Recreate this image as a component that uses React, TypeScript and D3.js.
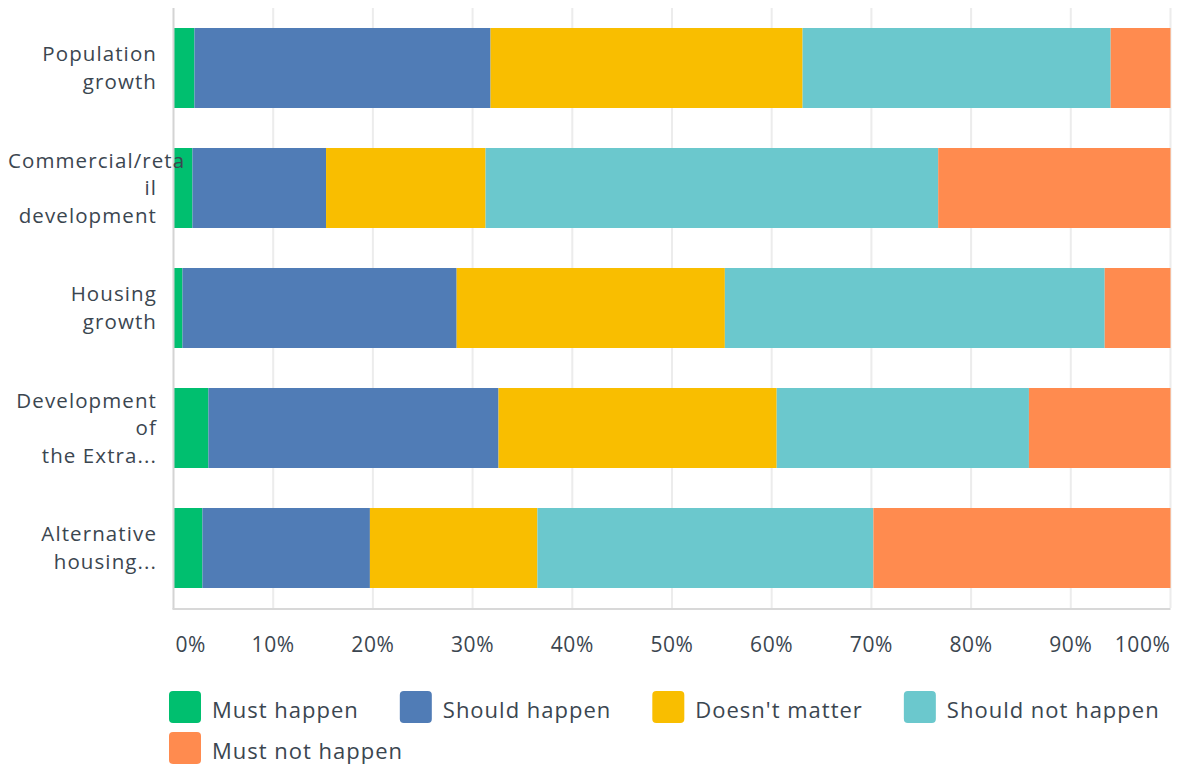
import React, { useEffect, useRef } from "react";
import * as d3 from "d3";

const categories: string[][] = [
  ["Population", "growth"],
  ["Commercial/reta", "il", "development"],
  ["Housing", "growth"],
  ["Development", "of", "the Extra..."],
  ["Alternative", "housing..."],
];
const seriesNames = ["Must happen", "Should happen", "Doesn't matter", "Should not happen", "Must not happen"];
const seriesColors = ["#00bf6f", "#507cb6", "#f9be00", "#6bc8cd", "#ff8b4f"];
const mustHappen = [2.1, 1.9, 0.9, 3.5, 2.9];
const shouldHappen = [29.7, 13.4, 27.5, 29.1, 16.8];
const doesntMatter = [31.3, 16.0, 26.9, 27.9, 16.8];
const shouldNotHappen = [30.9, 45.4, 38.1, 25.3, 33.7];
const mustNotHappen = [6.0, 23.3, 6.6, 14.2, 29.8];
const tickValues = [0, 10, 20, 30, 40, 50, 60, 70, 80, 90, 100];

const W = 1181;
const H = 765;
const FONT = "'Open Sans', sans-serif";
const TEXT = "#3b4650";

export default function App() {
  const ref = useRef<SVGSVGElement>(null);
  useEffect(() => {
    const svg = d3.select(ref.current);
    svg.selectAll("*").remove();
    const left = 173.5, right = 1170.5, top = 8, bottom = 608;
    const x = d3.scaleLinear().domain([0, 100]).range([left, right]);
    const keys = categories.map((c) => c.join(" "));
    const y = d3.scaleBand().domain(keys).range([top, bottom]).paddingInner(1 / 3).paddingOuter(1 / 6);
    const seriesData = [mustHappen, shouldHappen, doesntMatter, shouldNotHappen, mustNotHappen];
    const rows = keys.map((k, i) => {
      const o: any = { key: k };
      seriesNames.forEach((s, j) => (o[s] = seriesData[j][i]));
      return o;
    });
    const stack = d3.stack<any>().keys(seriesNames);
    const stacked = stack(rows);
    const total = rows.map((r) => d3.sum(seriesNames, (s) => r[s]));

    // gridlines
    svg.append("g").selectAll("line").data(tickValues.slice(1)).join("line")
      .attr("x1", (d) => x(d)).attr("x2", (d) => x(d))
      .attr("y1", top).attr("y2", bottom)
      .attr("stroke", "#ececec").attr("stroke-width", 2);

    // bars
    stacked.forEach((layer, j) => {
      svg.append("g").attr("fill", seriesColors[j]).selectAll("rect").data(layer).join("rect")
        .attr("x", (d, i) => x((d[0] / total[i]) * 100))
        .attr("width", (d, i) => x((d[1] / total[i]) * 100) - x((d[0] / total[i]) * 100))
        .attr("y", (d: any) => y(d.data.key) as number)
        .attr("height", y.bandwidth());
    });

    // axes lines
    svg.append("line").attr("x1", x(0)).attr("x2", x(0)).attr("y1", top).attr("y2", bottom + 1)
      .attr("stroke", "#d4d4d4").attr("stroke-width", 2);
    svg.append("line").attr("x1", x(0) - 1).attr("x2", x(100)).attr("y1", bottom + 1).attr("y2", bottom + 1)
      .attr("stroke", "#d8d8d8").attr("stroke-width", 2);

    // tick labels
    svg.append("g").selectAll("text").data(tickValues).join("text")
      .attr("x", (d) => (d === 0 ? x(d) + 2 : x(d)))
      .attr("y", bottom + 44)
      .attr("text-anchor", (d) => (d === 0 ? "start" : d === 100 ? "end" : "middle"))
      .attr("font-family", FONT).attr("font-size", 21).attr("letter-spacing", 0.6)
      .attr("fill", TEXT)
      .text((d) => `${d}%`);

    // category labels
    const labelRight = 157;
    const labelLeft = 8;
    const lh = 27.5;
    categories.forEach((lines, i) => {
      const cy = (y(keys[i]) as number) + y.bandwidth() / 2;
      const n = lines.length;
      lines.forEach((ln, k) => {
        const t = svg.append("text")
          .attr("font-family", FONT).attr("font-size", 20.5).attr("letter-spacing", 1.1)
          .attr("fill", TEXT)
          .attr("x", labelRight).attr("text-anchor", "end")
          .attr("y", cy + (k - (n - 1) / 2) * lh + 7)
          .text(ln);
        const w = (t.node() as SVGTextElement).getComputedTextLength();
        if (w > labelRight - labelLeft) t.attr("x", labelLeft).attr("text-anchor", "start");
      });
    });

    // legend
    const lg = svg.append("g");
    let lx = 169, ly = 691;
    const sq = 32, gap = 11, itemGap = 41, rowH = 41;
    seriesNames.forEach((s, j) => {
      const g = lg.append("g");
      g.append("rect").attr("width", sq).attr("height", sq).attr("rx", 4).attr("fill", seriesColors[j]);
      const t = g.append("text").attr("x", sq + gap).attr("y", 27)
        .attr("font-family", FONT).attr("font-size", 22).attr("letter-spacing", 1.0)
        .attr("fill", TEXT).text(s);
      const w = sq + gap + (t.node() as SVGTextElement).getComputedTextLength();
      if (lx + w > right + 2) { lx = 169; ly += rowH; }
      g.attr("transform", `translate(${lx},${ly})`);
      lx += w + itemGap;
    });
  }, []);
  return (
    <div style={{ position: "absolute", left: 0, top: 0, background: "#fff" }}>
      <svg ref={ref} width={W} height={H} style={{ display: "block" }} />
    </div>
  );
}
